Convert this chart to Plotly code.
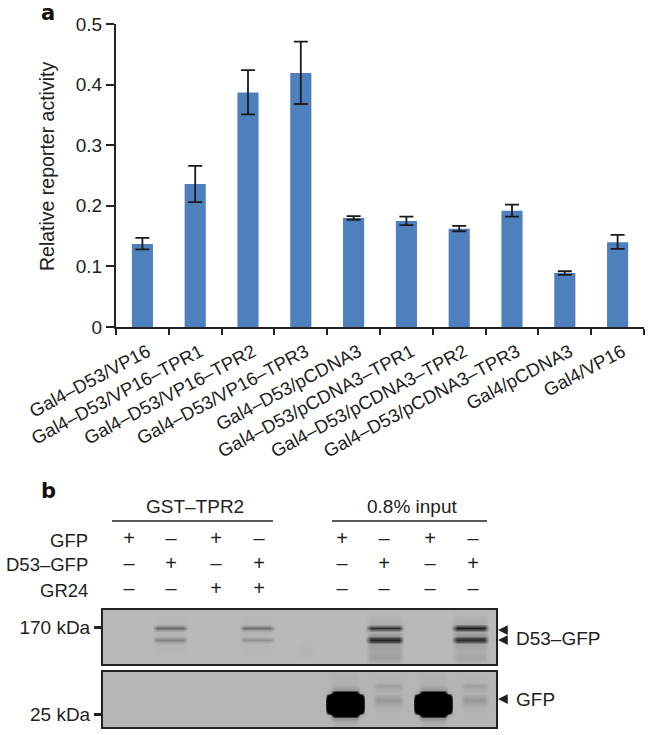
import plotly.graph_objects as go

W, H = 654, 735
FONT = "Liberation Sans"
INK = "#222222"

# Panel a data
categories = ["Gal4–D53/VP16", "Gal4–D53/VP16–TPR1", "Gal4–D53/VP16–TPR2", "Gal4–D53/VP16–TPR3",
              "Gal4–D53/pCDNA3", "Gal4–D53/pCDNA3–TPR1", "Gal4–D53/pCDNA3–TPR2", "Gal4–D53/pCDNA3–TPR3",
              "Gal4/pCDNA3", "Gal4/VP16"]
activity = [0.137, 0.236, 0.387, 0.419, 0.180, 0.175, 0.162, 0.192, 0.089, 0.140]
err_plus = [0.010, 0.030, 0.037, 0.052, 0.003, 0.007, 0.005, 0.010, 0.003, 0.012]
err_minus = [0.009, 0.030, 0.036, 0.051, 0.003, 0.007, 0.004, 0.010, 0.003, 0.011]

# Panel b table
lane_x = [129, 171, 216, 259, 342, 384, 430, 473]
row_names = ["GFP", "D53–GFP", "GR24"]
gfp_row = ["+", "–", "+", "–", "+", "–", "+", "–"]
d53_row = ["–", "+", "–", "+", "–", "+", "–", "+"]
gr24_row = ["–", "–", "+", "+", "–", "–", "–", "–"]

# Blot 1: grey levels on a grid (lane position, row position)
b1_x = [103, 152, 157, 183, 188, 239, 244, 270, 275, 292, 305, 318, 365, 371, 399, 404, 451, 457, 484, 489, 496]
b1_y = [610, 624, 626, 628, 630, 632, 636, 638, 640, 642, 644, 652, 657, 661, 664]
b1_bg = [185] * 15
b1_lane2 = [185, 182, 150, 105, 150, 178, 180, 155, 130, 160, 180, 182, 183, 184, 185]
b1_lane4 = [185, 182, 155, 110, 155, 178, 182, 165, 145, 170, 182, 183, 184, 184, 185]
b1_lane6 = [185, 175, 120, 50, 110, 170, 150, 70, 35, 85, 160, 165, 160, 170, 180]
b1_lane8 = [185, 170, 90, 30, 90, 165, 150, 70, 45, 95, 165, 172, 165, 172, 180]
b1_smear = [185, 185, 185, 185, 185, 185, 185, 185, 185, 184, 182, 178, 183, 185, 185]

# Blot 2: grey levels on a grid
b2_x = [103, 325, 330, 335, 356, 360, 365, 372, 377, 399, 404, 410, 413, 418, 423, 444, 448, 453, 460, 465, 484, 489, 496]
b2_y = [672, 682, 686, 690, 693, 696, 700, 704, 708, 712, 715, 718, 722, 727]
b2_bg = [181] * 14
b2_blob = [178, 175, 170, 150, -100, -700, -700, -700, -700, -700, -100, 140, 170, 178]
b2_blob_edge = [181, 181, 180, 175, 170, -150, -500, -500, -500, -150, 170, 178, 180, 181]
b2_faint = [181, 178, 158, 172, 178, 165, 150, 165, 176, 180, 181, 181, 181, 181]

def rows_from_lanes(xs, ys, bg, lanes):
    """lanes maps a pair of grid columns to the profile drawn between them."""
    z = []
    for i in range(len(ys)):
        row = []
        for x in xs:
            v = bg[i]
            for (a, b), prof in lanes:
                if a <= x <= b:
                    v = prof[i]
            row.append(v)
        z.append(row)
    return z

z1 = rows_from_lanes(b1_x, b1_y, b1_bg, [((157, 183), b1_lane2), ((244, 270), b1_lane4),
                                          ((371, 399), b1_lane6), ((457, 484), b1_lane8),
                                          ((305, 305), b1_smear)])
z2 = rows_from_lanes(b2_x, b2_y, b2_bg, [((330, 330), b2_blob_edge), ((335, 356), b2_blob), ((360, 360), b2_blob_edge),
                                          ((377, 399), b2_faint),
                                          ((418, 418), b2_blob_edge), ((423, 444), b2_blob), ((448, 448), b2_blob_edge),
                                          ((465, 484), b2_faint)])

grey = [[0, "#000000"], [1, "#ffffff"]]
fig = go.Figure()

fig.add_trace(go.Bar(
    x=categories, y=activity, width=0.4, marker=dict(color="#4d80bd", line_width=0),
    error_y=dict(type="data", symmetric=False, array=err_plus, arrayminus=err_minus,
                 color="#1a1a1a", thickness=1.8, width=7),
    xaxis="x", yaxis="y", showlegend=False))

fig.add_trace(go.Scatter(
    x=lane_x * 3, y=[0] * 8 + [1] * 8 + [2] * 8, text=gfp_row + d53_row + gr24_row, mode="text",
    textfont=dict(family=FONT, size=20, color=INK), xaxis="x2", yaxis="y2", showlegend=False))

for z, xs, ys, xa, ya in [(z1, b1_x, b1_y, "x3", "y3"), (z2, b2_x, b2_y, "x4", "y4")]:
    fig.add_trace(go.Heatmap(x=xs, y=ys, z=z, zmin=0, zmax=255, zsmooth="best", colorscale=grey,
                             showscale=False, xaxis=xa, yaxis=ya, hoverinfo="skip"))

def px(x):
    return x / W

def py(y):
    return 1 - y / H

def blot_axis_y(lo, hi, tick, label, anchor):
    return dict(domain=[py(hi), py(lo)], range=[hi, lo], showline=True, mirror=True, linecolor=INK, linewidth=2,
                tickmode="array", tickvals=[tick], ticktext=[label], ticks="outside", ticklen=7, tickwidth=3,
                tickcolor=INK, tickfont=dict(family=FONT, size=19, color=INK), showgrid=False, zeroline=False,
                anchor=anchor, automargin=False)

def blot_axis_x(anchor):
    return dict(domain=[px(103), px(496)], range=[103, 496], showline=True, mirror=True, linecolor=INK, linewidth=2,
                showticklabels=False, ticks="", showgrid=False, zeroline=False, anchor=anchor, automargin=False)

def label(x, y, text, xanchor="center", **kw):
    return dict(x=px(x), y=py(y), text=text, xanchor=xanchor, yanchor="middle", showarrow=False,
                xref="paper", yref="paper", **kw)

letter = dict(family="DejaVu Sans", size=21, color="#111111")
annotations = [
    label(48, 13, "<b>a</b>", font=letter),
    label(48, 491, "<b>b</b>", font=letter),
    label(47, 167, "Relative reporter activity", textangle=-90, font=dict(size=19.5)),
    label(195, 506, "GST–TPR2"),
    label(412, 506, "0.8% input"),
    label(514, 638, "D53–GFP", xanchor="left"),
    label(514, 699, "GFP", xanchor="left"),
]
for name, y in zip(row_names, [540, 564, 590]):
    annotations.append(label(90, y, name, xanchor="right", font=dict(size=18.5)))
for y in [630, 640, 699]:
    annotations.append(dict(x=px(498), y=py(y), ax=11, ay=0, xref="paper", yref="paper",
                            text="", showarrow=True, arrowhead=2,
                            arrowsize=1.3, arrowwidth=1.5, arrowcolor=INK))

shapes = [
    dict(type="line", xref="paper", yref="paper", x0=px(112), x1=px(273), y0=py(521), y1=py(521),
         line=dict(color=INK, width=1.5)),
    dict(type="line", xref="paper", yref="paper", x0=px(332), x1=px(487), y0=py(521), y1=py(521),
         line=dict(color=INK, width=1.5)),
]

fig.update_layout(
    template="none",
    width=W, height=H, margin=dict(l=0, r=0, t=0, b=0, autoexpand=False), paper_bgcolor="white", plot_bgcolor="white",
    font=dict(family=FONT, size=19, color=INK), annotations=annotations, shapes=shapes,
    xaxis=dict(domain=[px(116), px(644)], range=[-0.5, 9.5], anchor="y", showline=True, linecolor=INK, linewidth=2,
               ticks="outside", ticklen=6, tickwidth=2, tickcolor=INK, tickson="boundaries", tickangle=-28,
               ticklabelstandoff=5, ticklabelshift=5, tickfont=dict(size=18.5), showgrid=False, zeroline=False,
               automargin=False),
    yaxis=dict(domain=[py(327), py(24)], range=[0, 0.5], anchor="x", showline=True, linecolor=INK, linewidth=2,
               tickvals=[0, 0.1, 0.2, 0.3, 0.4, 0.5], ticktext=["0", "0.1", "0.2", "0.3", "0.4", "0.5"],
               ticks="outside", ticklen=8, tickwidth=2, tickcolor=INK, tickfont=dict(size=19),
               showgrid=False, zeroline=False, automargin=False),
    xaxis2=dict(domain=[0, 1], range=[0, W], visible=False, anchor="y2"),
    yaxis2=dict(domain=[py(602), py(528)], range=[2.5, -0.5], visible=False, anchor="x2"),
    xaxis3=blot_axis_x("y3"),
    yaxis3=blot_axis_y(610, 664, 627, "170 kDa", "x3"),
    xaxis4=blot_axis_x("y4"),
    yaxis4=blot_axis_y(672, 727, 714, "25 kDa", "x4"),
)
fig.write_html("out.html", post_script="document.body.style.margin='0';", config={"displayModeBar": False})
